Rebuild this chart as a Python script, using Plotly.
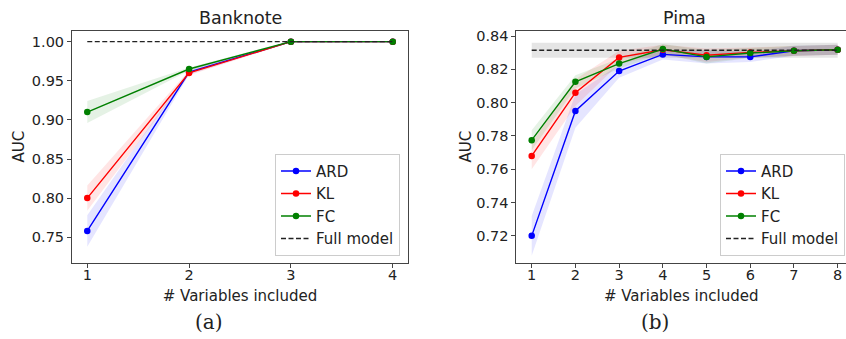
import plotly.graph_objects as go

# ---------------- data ----------------
bank_x = [1, 2, 3, 4]
bank_ard = [0.758, 0.961, 1.0, 1.0]
bank_ard_err = [0.020, 0.003, 0.0008, 0.0]
bank_kl = [0.800, 0.960, 1.0, 1.0]
bank_kl_err = [0.016, 0.003, 0.0008, 0.0]
bank_fc = [0.910, 0.965, 1.0, 1.0]
bank_fc_err = [0.014, 0.002, 0.0008, 0.0]
bank_full = 1.0
bank_full_err = 0.0

pima_x = [1, 2, 3, 4, 5, 6, 7, 8]
pima_ard = [0.720, 0.795, 0.819, 0.829, 0.8275, 0.8275, 0.8312, 0.8318]
pima_ard_err = [0.012, 0.010, 0.004, 0.003, 0.004, 0.003, 0.003, 0.003]
pima_kl = [0.768, 0.806, 0.8272, 0.8318, 0.8285, 0.8302, 0.8312, 0.8318]
pima_kl_err = [0.008, 0.008, 0.004, 0.003, 0.004, 0.003, 0.003, 0.003]
pima_fc = [0.7775, 0.8125, 0.8235, 0.8322, 0.8275, 0.8298, 0.8312, 0.8318]
pima_fc_err = [0.006, 0.004, 0.003, 0.003, 0.004, 0.003, 0.003, 0.003]
pima_full = 0.8315
pima_full_err = 0.0045

series_names = ["ARD", "KL", "FC"]
series_colors = ["#0000ff", "#ff0000", "#008000"]
band_colors = ["rgba(0,0,255,0.10)", "rgba(255,0,0,0.10)", "rgba(0,128,0,0.10)"]

W, H = 846, 339
FONT = "DejaVu Sans"

fig = go.Figure()


def add_panel(xs, means, errs, full, full_err, xa, ya, legend):
    for m, e, col in zip(means, errs, band_colors):
        up = [a + b for a, b in zip(m, e)]
        lo = [a - b for a, b in zip(m, e)]
        fig.add_trace(go.Scatter(x=xs + xs[::-1], y=up + lo[::-1], fill="toself",
                                 fillcolor=col, line=dict(width=0), mode="lines",
                                 hoverinfo="skip", showlegend=False, xaxis=xa, yaxis=ya))
    fx = [xs[0], xs[-1]]
    if full_err > 0:
        fig.add_trace(go.Scatter(x=fx + fx[::-1], y=[full + full_err] * 2 + [full - full_err] * 2,
                                 fill="toself", fillcolor="rgba(0,0,0,0.10)", line=dict(width=0),
                                 mode="lines", hoverinfo="skip", showlegend=False,
                                 xaxis=xa, yaxis=ya))
    for name, m, col in zip(series_names, means, series_colors):
        fig.add_trace(go.Scatter(x=xs, y=m, mode="lines+markers", name=name,
                                 line=dict(color=col, width=1.4),
                                 marker=dict(color=col, size=6.5),
                                 xaxis=xa, yaxis=ya, legend=legend))
    fig.add_trace(go.Scatter(x=fx, y=[full, full], mode="lines", name="Full model",
                             line=dict(color="#222222", width=1.3, dash="5px,2.5px"),
                             xaxis=xa, yaxis=ya, legend=legend))


add_panel(bank_x, [bank_ard, bank_kl, bank_fc], [bank_ard_err, bank_kl_err, bank_fc_err],
          bank_full, bank_full_err, "x", "y", "legend")
add_panel(pima_x, [pima_ard, pima_kl, pima_fc], [pima_ard_err, pima_kl_err, pima_fc_err],
          pima_full, pima_full_err, "x2", "y2", "legend2")

ydom = [1 - 262 / H, 1 - 28 / H]
axis_common = dict(showgrid=False, zeroline=False, ticks="outside", ticklen=4,
                   tickcolor="#444", linecolor="#444", linewidth=1,
                   tickfont=dict(family=FONT, size=14.5, color="#222"))

fig.update_layout(
    width=W, height=H, margin=dict(l=0, r=0, t=0, b=0),
    paper_bgcolor="white", plot_bgcolor="white",
    font=dict(family=FONT, color="#222"),
    xaxis=dict(domain=[72 / W, 408 / W], range=[0.85, 4.15], tickvals=[1, 2, 3, 4],
               showline=True, mirror=True, anchor="y", ticklabelstandoff=-5,
               title=dict(text="# Variables included", font=dict(size=15), standoff=8),
               **axis_common),
    yaxis=dict(domain=ydom, range=[0.7175, 1.0139],
               tickvals=[0.75, 0.80, 0.85, 0.90, 0.95, 1.00], tickformat=".2f",
               showline=True, mirror=True, anchor="x",
               title=dict(text="AUC", font=dict(size=15), standoff=3),
               **axis_common),
    xaxis2=dict(domain=[516.4 / W, 1.0], range=[0.65, 1 + (846 - 531.7) / 43.71],
                tickvals=[1, 2, 3, 4, 5, 6, 7, 8],
                showline=True, mirror=True, anchor="y2", ticklabelstandoff=-5,
                title=dict(text="# Variables included", font=dict(size=15), standoff=8),
                **axis_common),
    yaxis2=dict(domain=ydom, range=[0.7039, 0.8432],
                tickvals=[0.72, 0.74, 0.76, 0.78, 0.80, 0.82, 0.84], tickformat=".2f",
                showline=True, mirror=False, anchor="x2",
                title=dict(text="AUC", font=dict(size=15), standoff=0),
                **axis_common),
    legend=dict(x=400 / W, y=1 - 255 / H, xanchor="right", yanchor="bottom",
                bgcolor="rgba(255,255,255,0.85)", bordercolor="#cccccc", borderwidth=1,
                font=dict(family=FONT, size=15, color="#222")),
    legend2=dict(x=845 / W, y=1 - 255 / H, xanchor="right", yanchor="bottom",
                 bgcolor="rgba(255,255,255,0.85)", bordercolor="#cccccc", borderwidth=1,
                 font=dict(family=FONT, size=15, color="#222")),
    annotations=[
        dict(text="Banknote", x=240 / W, y=1 - 15 / H, xref="paper", yref="paper",
             xanchor="center", yanchor="middle",
             showarrow=False, font=dict(family=FONT, size=17.5, color="#222")),
        dict(text="Pima", x=684 / W, y=1 - 15 / H, xref="paper", yref="paper",
             xanchor="center", yanchor="middle",
             showarrow=False, font=dict(family=FONT, size=17.5, color="#222")),
        dict(text="(a)", x=209 / W, y=1 - 322 / H, xref="paper", yref="paper",
             xanchor="center", yanchor="middle",
             showarrow=False, font=dict(family="DejaVu Serif", size=20, color="#222")),
        dict(text="(b)", x=655 / W, y=1 - 322 / H, xref="paper", yref="paper",
             xanchor="center", yanchor="middle",
             showarrow=False, font=dict(family="DejaVu Serif", size=20, color="#222")),
    ],
)

fig.write_html("out.html")
